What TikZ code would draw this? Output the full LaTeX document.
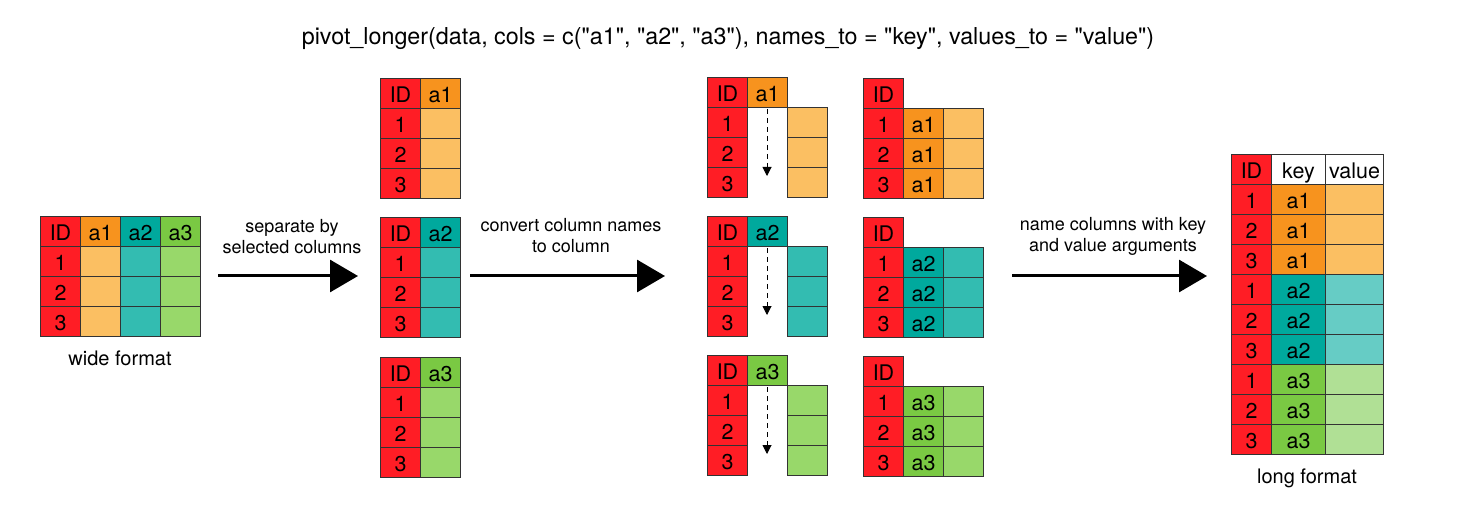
\documentclass[tikz,border=0pt]{standalone}
\usepackage{fontspec}
\setmainfont{TeX Gyre Heros}
\newfontfamily\plainheros{TeX Gyre Heros}
\usetikzlibrary{arrows.meta}
\definecolor{cred}{HTML}{FF1D25}
\definecolor{corange}{HTML}{F7931E}
\definecolor{clorange}{HTML}{FBBF62}
\definecolor{cteal}{HTML}{00A99D}
\definecolor{clteal}{HTML}{33BCB1}
\definecolor{cllteal}{HTML}{66CCC5}
\definecolor{cgreen}{HTML}{7AC943}
\definecolor{clgreen}{HTML}{98D86A}
\definecolor{cllgreen}{HTML}{B0E095}
\definecolor{cborder}{HTML}{333333}
\newcommand\celltext{\fontsize{21.5}{25}\selectfont}
\newcommand\arrowtext{\fontsize{18}{21}\selectfont}
\newcommand\fmttext{\fontsize{20}{24}\selectfont}
\newcommand\titletext{\plainheros\fontsize{23.3}{27}\selectfont}
\tikzset{
  cellbox/.style={draw=cborder, line width=1pt, minimum height=30pt, inner sep=0pt,
    anchor=north west, font=\celltext, text height=17.4pt, text depth=0pt},
  bigarrow/.style={line width=3pt, -{Triangle[length=28pt,width=32pt]}},
  dasharrow/.style={line width=1pt, dash pattern=on 5pt off 4pt, -{Triangle[length=9pt,width=9pt]}},
  lbl/.style={align=center, inner sep=0pt},
}
% ID column: prefix, x, y, number of body rows
\newcommand\idcolumn[4]{%
  \node[cellbox, fill=cred, minimum width=40pt] (#1-h) at (#2,#3) {ID};
  \foreach \r in {1,...,#4} {
    \pgfmathtruncatemacro\lab{mod(\r-1,3)+1}
    \node[cellbox, fill=cred, minimum width=40pt] (#1-\r) at (#2,#3+30*\r) {\lab};
  }%
}
% body column: prefix, x, y of first cell, width, fill, text, rows
\newcommand\bodycolumn[7]{%
  \foreach \r in {1,...,#7} {
    \node[cellbox, fill=#5, minimum width=#4pt] (#1-\r) at (#2,#3+30*\r-30) {#6};
  }%
}
\begin{document}
\begin{tikzpicture}[x=1pt,y=-1pt]
\useasboundingbox (0,0) rectangle (1457,505);

% title
\node[lbl, font=\titletext] (title) at (728,39)
  {pivot\_longer(data, cols = c("a1", "a2", "a3"), names\_to = "key", values\_to = "value")};

% wide table
\idcolumn{w-id}{40}{216}{3}
\node[cellbox, fill=corange, minimum width=40pt] (w-a1-h) at (80,216) {a1};
\node[cellbox, fill=cteal, minimum width=40pt] (w-a2-h) at (120,216) {a2};
\node[cellbox, fill=cgreen, minimum width=40pt] (w-a3-h) at (160,216) {a3};
\bodycolumn{w-a1}{80}{246}{40}{clorange}{}{3}
\bodycolumn{w-a2}{120}{246}{40}{clteal}{}{3}
\bodycolumn{w-a3}{160}{246}{40}{clgreen}{}{3}
\node[lbl, font=\fmttext] (wide) at (120,358) {wide format};

% arrow 1
\coordinate (a1s) at (218,276);
\coordinate (a1e) at (358,276);
\draw[bigarrow] (a1s) -- (a1e);
\node[lbl, font=\arrowtext] (t1) at (292,237) {separate by\\selected columns};

% separated tables
\idcolumn{s1-id}{380}{78}{3}
\node[cellbox, fill=corange, minimum width=40pt] (s1-h) at (420,78) {a1};
\bodycolumn{s1-b}{420}{108}{40}{clorange}{}{3}
\idcolumn{s2-id}{380}{217}{3}
\node[cellbox, fill=cteal, minimum width=40pt] (s2-h) at (420,217) {a2};
\bodycolumn{s2-b}{420}{247}{40}{clteal}{}{3}
\idcolumn{s3-id}{380}{357}{3}
\node[cellbox, fill=cgreen, minimum width=40pt] (s3-h) at (420,357) {a3};
\bodycolumn{s3-b}{420}{387}{40}{clgreen}{}{3}

% arrow 2
\coordinate (a2s) at (470,276);
\coordinate (a2e) at (665,276);
\draw[bigarrow] (a2s) -- (a2e);
\node[lbl, font=\arrowtext] (t2) at (571,236) {convert column names\\to column};

% middle left tables
\idcolumn{m1-id}{707}{77}{3}
\node[cellbox, fill=corange, minimum width=40pt] (m1-h) at (747,77) {a1};
\bodycolumn{m1-b}{787}{107}{40}{clorange}{}{3}
\coordinate (m1-d0) at (767,109);
\coordinate (m1-d1) at (767,176);
\draw[dasharrow] (m1-d0) -- (m1-d1);

\idcolumn{m2-id}{707}{216}{3}
\node[cellbox, fill=cteal, minimum width=40pt] (m2-h) at (747,216) {a2};
\bodycolumn{m2-b}{787}{246}{40}{clteal}{}{3}
\coordinate (m2-d0) at (767,248);
\coordinate (m2-d1) at (767,315);
\draw[dasharrow] (m2-d0) -- (m2-d1);

\idcolumn{m3-id}{707}{355}{3}
\node[cellbox, fill=cgreen, minimum width=40pt] (m3-h) at (747,355) {a3};
\bodycolumn{m3-b}{787}{385}{40}{clgreen}{}{3}
\coordinate (m3-d0) at (767,387);
\coordinate (m3-d1) at (767,454);
\draw[dasharrow] (m3-d0) -- (m3-d1);

% middle right tables
\idcolumn{r1-id}{863}{78}{3}
\bodycolumn{r1-k}{903}{108}{40}{corange}{a1}{3}
\bodycolumn{r1-v}{943}{108}{40}{clorange}{}{3}
\idcolumn{r2-id}{863}{217}{3}
\bodycolumn{r2-k}{903}{247}{40}{cteal}{a2}{3}
\bodycolumn{r2-v}{943}{247}{40}{clteal}{}{3}
\idcolumn{r3-id}{863}{356}{3}
\bodycolumn{r3-k}{903}{386}{40}{cgreen}{a3}{3}
\bodycolumn{r3-v}{943}{386}{40}{clgreen}{}{3}

% arrow 3
\coordinate (a3s) at (1012,276);
\coordinate (a3e) at (1207,276);
\draw[bigarrow] (a3s) -- (a3e);
\node[lbl, font=\arrowtext] (t3) at (1113,236) {name columns with key\\and value arguments};

% long table
\idcolumn{l-id}{1231}{154}{9}
\node[cellbox, fill=white, minimum width=54pt] (l-kh) at (1271,154) {key};
\node[cellbox, fill=white, minimum width=58pt] (l-vh) at (1325,154) {value};
\bodycolumn{l-k1}{1271}{184}{54}{corange}{a1}{3}
\bodycolumn{l-k2}{1271}{274}{54}{cteal}{a2}{3}
\bodycolumn{l-k3}{1271}{364}{54}{cgreen}{a3}{3}
\bodycolumn{l-v1}{1325}{184}{58}{clorange}{}{3}
\bodycolumn{l-v2}{1325}{274}{58}{cllteal}{}{3}
\bodycolumn{l-v3}{1325}{364}{58}{cllgreen}{}{3}
\node[lbl, font=\fmttext] (long) at (1307,478) {long format};
\end{tikzpicture}
\end{document}
